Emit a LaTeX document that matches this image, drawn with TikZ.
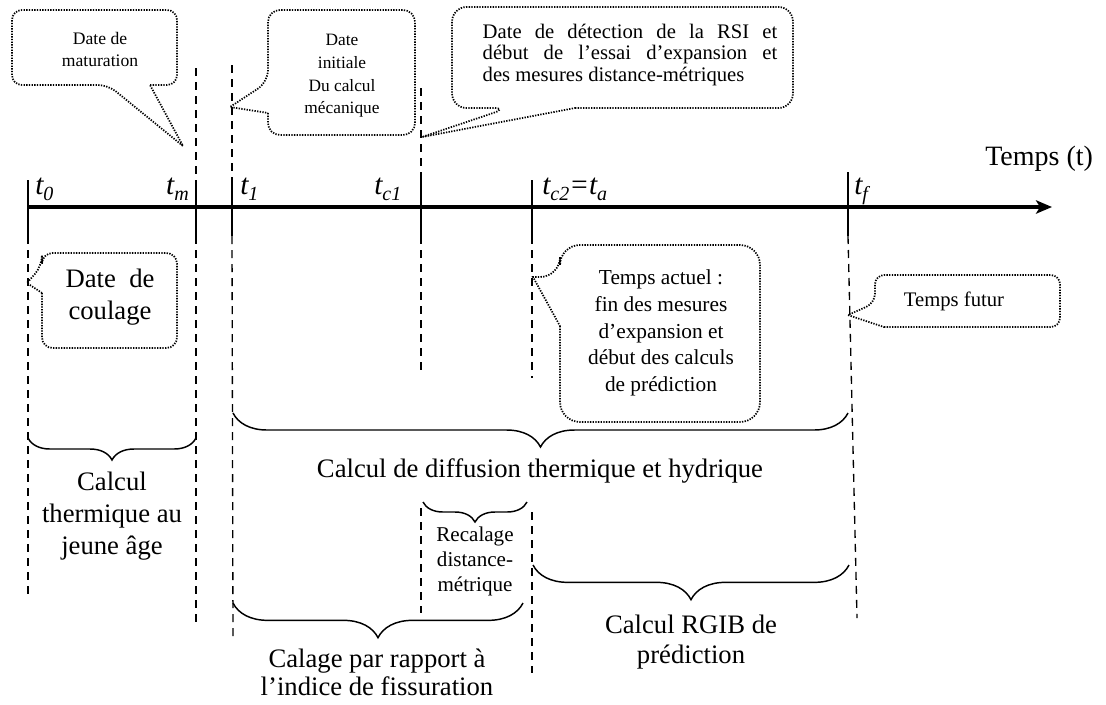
\documentclass[tikz,border=0pt]{standalone}
\usepackage{fontspec}
\setmainfont{Liberation Serif}
\usetikzlibrary{decorations.pathreplacing,arrows.meta}
\newcommand\tsub[1]{\raisebox{-4.5pt}{\fontsize{15}{15}\selectfont\itshape #1}}
\begin{document}
\begin{tikzpicture}[x=0.75pt,y=-0.75pt,
  axis/.style={line width=3.3pt,-{Stealth[length=12pt,width=10pt,inset=3pt]}},
  tick/.style={line width=1.1pt},
  dline/.style={line width=1pt,dash pattern=on 6pt off 4.5pt},
  callout/.style={line width=1.3pt,dash pattern=on 1pt off 1pt},
  brc/.style={line width=1.1pt,decorate,decoration={brace,mirror,amplitude=#1}},
  txt/.style={inner sep=0pt,align=center},
  big/.style={font=\fontsize{20}{23.5}\selectfont},
  lab/.style={inner sep=0pt,anchor=base west,font=\fontsize{22}{26}\selectfont\itshape},
]
\useasboundingbox (0,0) rectangle (1106,704);

% axis
\coordinate (A0) at (28,207);
\coordinate (A1) at (1052,207);
\draw[axis] (A0) -- (A1);
\node[anchor=base west,inner sep=0pt,font=\fontsize{21}{25}\selectfont] (temps) at (985,165) {Temps (t)};

% ticks (solid)
\foreach \n/\x in {t0/28,tm/196,t1/232,tc1/421,tc2/532}{
  \coordinate (\n top) at (\x,180);
  \coordinate (\n bot) at (\x,236);
  \draw[tick] (\n top) -- (\n bot);
}
\coordinate (tftop) at (848,172);
\coordinate (tfbot) at (848,236);
\draw[tick] (tftop) -- (tfbot);

% labels
\node[lab] (l0)  at (35,194)  {t\tsub{0}};
\node[lab,anchor=base east] (lm) at (189,194) {t\tsub{m}};
\node[lab] (l1)  at (240,194) {t\tsub{1}};
\node[lab] (lc1) at (374,194) {t\tsub{c1}};
\node[lab] (lc2) at (542,194) {t\tsub{c2}=t\tsub{a}};
\node[lab] (lf)  at (854,194) {t\tsub{f}};

% dashed extensions
\draw[dline] (t0bot) -- (28,598);
\draw[dline] (196,68) -- (tmtop);
\draw[dline] (tmbot) -- (196,628);
\draw[dline] (232,65) -- (t1top);
\draw[dline] (t1bot) -- (233,636);
\draw[dline] (421,88) -- (tc1top);
\draw[dline] (tc1bot) -- (421,376);
\draw[dline] (tc2bot) -- (532,378);
\draw[dline] (tfbot) -- (857,618);
\draw[dline] (421,508) -- (421,613);
\draw[dline] (532,512) -- (532,673);

% callouts
\node[txt,font=\fontsize{13.2}{16.5}\selectfont] (mat) at (100,49) {Date de\\maturation};
\draw[callout,rounded corners=7.5pt] (150,85) -- (177,85) -- (177,10) -- (12,10) -- (12,85) -- (108,85) [sharp corners] -- (183,146) -- cycle;

\node[txt,font=\fontsize{13}{17}\selectfont] (init) at (342,76) {Date\\initiale\\Du calcul\\mécanique};
\draw[callout,rounded corners=9pt] (268,113) -- (268,135) -- (415,135) -- (415,10) -- (268,10) -- (268,82) [sharp corners] -- (230,107) -- cycle;

\node[inner sep=0pt,text width=221pt,align=justify,font=\fontsize{15.5}{16.2}\selectfont] (detect) at (630,55)
  {\tolerance=10000\hyphenpenalty=10000 Date de détection de la RSI et\linebreak début de l’essai d’expansion et\linebreak des mesures distance-métriques};
\draw[callout,rounded corners=11pt] (575,108) -- (793,108) -- (793,7) -- (452,7) -- (452,108) -- (508,108) [sharp corners] -- (422,137) -- cycle;

\node[txt,big] (coul) at (110,297) {Date\ \ de\\coulage};
\draw[callout,rounded corners=8pt] (42,293) -- (42,348) -- (177,348) -- (177,253) -- (42,253) -- (42,266) [sharp corners] -- (27,283) -- cycle;

\node[txt,font=\fontsize{16}{20}\selectfont] (act) at (661,333) {Temps actuel :\\fin des mesures\\d’expansion et\\début des calculs\\de prédiction};
\draw[callout,rounded corners=15pt] (560,326) -- (560,422) -- (760,422) -- (760,245) -- (560,245) -- (560,277) [sharp corners] -- (533,277) -- cycle;

\node[txt,font=\fontsize{15.5}{18}\selectfont] (fut) at (954,301) {Temps futur};
\draw[callout,rounded corners=7pt] (884,327) -- (1060,327) -- (1060,275) -- (875,275) -- (875,303) [sharp corners] -- (848,315) -- cycle;

% braces
\draw[brc=16.5pt] (28,438) -- (196,438);
\node[txt,font=\fontsize{20}{24}\selectfont] (therm) at (112,516) {Calcul\\thermique au\\jeune âge};

\draw[brc=25.5pt] (233,413) -- (848,413);
\node[txt,big] (diff) at (540,471) {Calcul de diffusion thermique et hydrique};

\draw[brc=15pt] (423,502) -- (527,502);
\node[txt,font=\fontsize{15.8}{18.75}\selectfont] (recal) at (475,561) {Recalage\\distance-\\métrique};

\draw[brc=26pt] (233,603) -- (523,603);
\node[txt,font=\fontsize{20}{21}\selectfont] (cal) at (377,672) {Calage par rapport à\\l’indice de fissuration};

\draw[brc=26pt] (533,565) -- (849,565);
\node[txt,font=\fontsize{20}{23}\selectfont] (rgib) at (691,642) {Calcul RGIB de\\prédiction};
\end{tikzpicture}
\end{document}
